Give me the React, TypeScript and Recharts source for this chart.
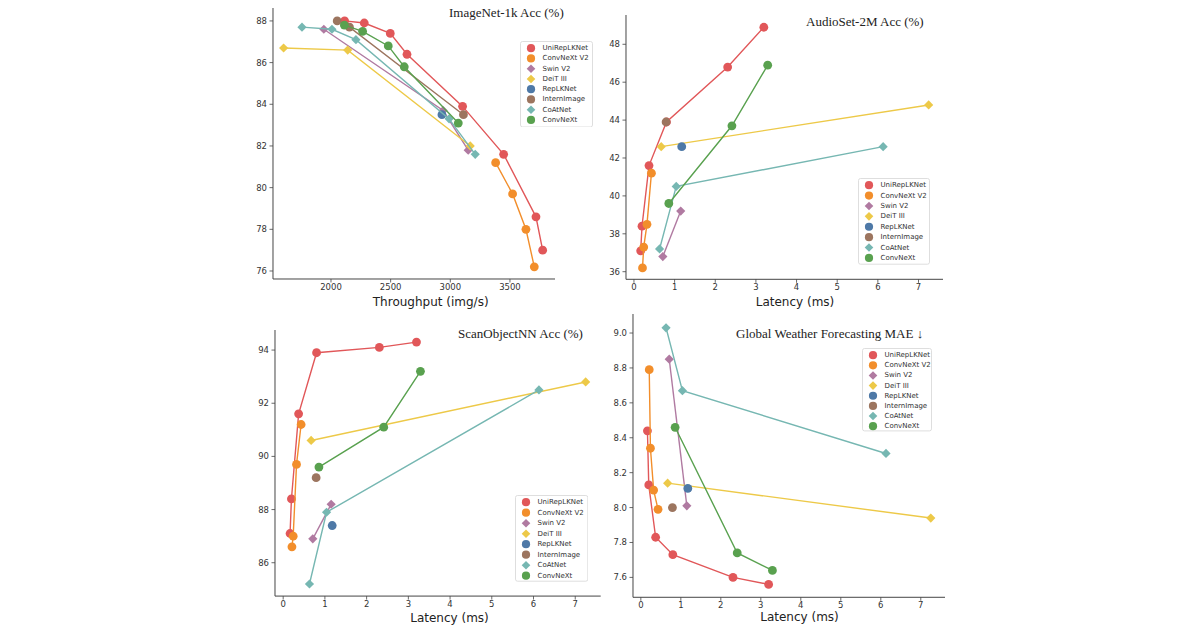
import React from 'react';
import { ScatterChart, Scatter, XAxis, YAxis, Legend } from 'recharts';

// ---- models, colours, marker shapes ----
const MODELS = ['UniRepLKNet', 'ConvNeXt V2', 'Swin V2', 'DeiT III', 'RepLKNet', 'InternImage', 'CoAtNet', 'ConvNeXt'];
const COLORS = ['#e15759', '#f28e2b', '#b07aa1', '#edc948', '#4e79a7', '#9c755f', '#76b7b2', '#59a14f'];
const SHAPES = ['circle', 'circle', 'diamond', 'diamond', 'circle', 'circle', 'diamond', 'circle'];

// ---- ImageNet-1k: throughput (img/s) and top-1 accuracy (%) ----
const inThroughputUniRepLKNet = [2114, 2279, 2497, 2637, 3103, 3447, 3718, 3774];
const inAccUniRepLKNet = [88.0, 87.9, 87.4, 86.4, 83.9, 81.6, 78.6, 77.0];
const inThroughputConvNeXtV2 = [3380, 3522, 3634, 3704];
const inAccConvNeXtV2 = [81.2, 79.7, 78.0, 76.2];
const inThroughputSwinV2 = [1940, 2940, 3150];
const inAccSwinV2 = [87.6, 83.7, 81.8];
const inThroughputDeiT = [1603, 2140, 3167];
const inAccDeiT = [86.7, 86.6, 82.0];
const inThroughputRepLKNet = [2930];
const inAccRepLKNet = [83.5];
const inThroughputInternImage = [2052, 2155, 3110];
const inAccInternImage = [88.0, 87.7, 83.5];
const inThroughputCoAtNet = [1757, 2008, 2209, 2990, 3209];
const inAccCoAtNet = [87.7, 87.6, 87.1, 83.3, 81.6];
const inThroughputConvNeXt = [2112, 2265, 2480, 2614, 3067];
const inAccConvNeXt = [87.8, 87.5, 86.8, 85.8, 83.1];

// ---- latency (ms) per model, shared by the three latency panels ----
const latUniRepLKNet = [0.165, 0.198, 0.37, 0.8, 2.305, 3.195];
const latConvNeXtV2 = [0.21, 0.24, 0.32, 0.43];
const latSwinV2 = [0.71, 1.15];
const latDeiT = [0.67, 7.25];
const latRepLKNet = [1.175];
const latInternImage = [0.79];
const latCoAtNet = [0.63, 1.04, 6.13];
const latConvNeXt = [0.857, 2.41, 3.29];

// ---- AudioSet-2M accuracy (%) ----
const asUniRepLKNet = [37.1, 38.4, 41.6, 43.9, 46.8, 48.9];
const asConvNeXtV2 = [36.2, 37.3, 38.5, 41.2];
const asSwinV2 = [36.8, 39.2];
const asDeiT = [42.6, 44.8];
const asRepLKNet = [42.6];
const asInternImage = [43.9];
const asCoAtNet = [37.2, 40.5, 42.6];
const asConvNeXt = [39.6, 43.7, 46.9];

// ---- ScanObjectNN accuracy (%) ----
const soUniRepLKNet = [87.1, 88.4, 91.6, 93.9, 94.1, 94.3];
const soConvNeXtV2 = [86.6, 87.0, 89.7, 91.2];
const soSwinV2 = [86.9, 88.2];
const soDeiT = [90.6, 92.8];
const soRepLKNet = [87.4];
const soInternImage = [89.2];
const soCoAtNet = [85.2, 87.9, 92.5];
const soConvNeXt = [89.6, 91.1, 93.2];

// ---- Global weather forecasting MAE ----
const gwUniRepLKNet = [8.44, 8.13, 7.83, 7.73, 7.6, 7.56];
const gwConvNeXtV2 = [8.79, 8.34, 8.1, 7.99];
const gwSwinV2 = [8.85, 8.01];
const gwDeiT = [8.14, 7.94];
const gwRepLKNet = [8.11];
const gwInternImage = [8.0];
const gwCoAtNet = [9.03, 8.67, 8.31];
const gwConvNeXt = [8.46, 7.74, 7.64];

// ---- tick values ----
const inXTicks = [2000, 2500, 3000, 3500];
const inYTicks = [76, 78, 80, 82, 84, 86, 88];
const latXTicks = [0, 1, 2, 3, 4, 5, 6, 7];
const asYTicks = [36, 38, 40, 42, 44, 46, 48];
const soYTicks = [86, 88, 90, 92, 94];
const gwYTicks = [7.6, 7.8, 8.0, 8.2, 8.4, 8.6, 8.8, 9.0];

const LAT = [latUniRepLKNet, latConvNeXtV2, latSwinV2, latDeiT, latRepLKNet, latInternImage, latCoAtNet, latConvNeXt];

type Pt = { x: number; y: number };
const zip = (xs: number[], ys: number[]): Pt[] => ys.map((y, i) => ({ x: xs[i], y }));

const imagenetSeries = [
  zip(inThroughputUniRepLKNet, inAccUniRepLKNet),
  zip(inThroughputConvNeXtV2, inAccConvNeXtV2),
  zip(inThroughputSwinV2, inAccSwinV2),
  zip(inThroughputDeiT, inAccDeiT),
  zip(inThroughputRepLKNet, inAccRepLKNet),
  zip(inThroughputInternImage, inAccInternImage),
  zip(inThroughputCoAtNet, inAccCoAtNet),
  zip(inThroughputConvNeXt, inAccConvNeXt),
];
const audiosetSeries = [asUniRepLKNet, asConvNeXtV2, asSwinV2, asDeiT, asRepLKNet, asInternImage, asCoAtNet, asConvNeXt].map((v, i) => zip(LAT[i], v));
const scanSeries = [soUniRepLKNet, soConvNeXtV2, soSwinV2, soDeiT, soRepLKNet, soInternImage, soCoAtNet, soConvNeXt].map((v, i) => zip(LAT[i], v));
const weatherSeries = [gwUniRepLKNet, gwConvNeXtV2, gwSwinV2, gwDeiT, gwRepLKNet, gwInternImage, gwCoAtNet, gwConvNeXt].map((v, i) => zip(LAT[i], v));

const SANS = '"DejaVu Sans", Verdana, sans-serif';
const SERIF = '"Liberation Serif", "Times New Roman", serif';
const AXIS = '#444';
const TEXT = '#333';

// Circle or diamond; for a diamond r is the half-diagonal.
function Marker({ shape, cx, cy, color, r }: { shape: string; cx: number; cy: number; color: string; r: number }) {
  if (shape === 'diamond') {
    return <polygon points={`${cx},${cy - r} ${cx + r},${cy} ${cx},${cy + r} ${cx - r},${cy}`} fill={color} />;
  }
  return <circle cx={cx} cy={cy} r={r} fill={color} />;
}

function LegendBox({ w, h, step }: { w: number; h: number; step: number }) {
  return (
    <svg width={w} height={h} style={{ display: 'block' }}>
      <rect x={0.5} y={0.5} width={w - 1} height={h - 1} rx={2} fill="#fff" fillOpacity={0.85} stroke="#d6d6d6" strokeWidth={0.8} />
      {MODELS.map((m, i) => {
        const cy = 7.2 + i * step;
        return (
          <g key={m}>
            <Marker shape={SHAPES[i]} cx={11} cy={cy} color={COLORS[i]} r={SHAPES[i] === 'diamond' ? 4.3 : 4.1} />
            <text x={22.5} y={cy} dominantBaseline="central" fontSize={7} fontFamily={SANS} fill={TEXT}>
              {m}
            </text>
          </g>
        );
      })}
    </svg>
  );
}

type Panel = {
  key: string;
  plot: { L: number; T: number; R: number; B: number };
  xDomain: [number, number];
  yDomain: [number, number];
  xTicks: number[];
  yTicks: number[];
  yFmt: (v: number) => string;
  series: Pt[][];
  legend: { x: number; y: number; w: number; h: number; step: number };
  title: { text: string; x: number; y: number };
  xlabel: { text: string; x: number; y: number };
};

const LAT_DOMAIN: [number, number] = [-0.196, 7.61];

const PANELS: Panel[] = [
  {
    key: 'imagenet',
    plot: { L: 272.7, T: 8, R: 555, B: 279 },
    xDomain: [1514, 3880],
    yDomain: [75.616, 88.62],
    xTicks: inXTicks,
    yTicks: inYTicks,
    yFmt: (v) => String(v),
    series: imagenetSeries,
    legend: { x: 520.5, y: 40.7, w: 73, h: 86.5, step: 10.25 },
    title: { text: 'ImageNet-1k Acc (%)', x: 449, y: 11.7 },
    xlabel: { text: 'Throughput (img/s)', x: 430.7, y: 301.7 },
  },
  {
    key: 'audioset',
    plot: { L: 626, T: 15, R: 943.3, B: 279.3 },
    xDomain: LAT_DOMAIN,
    yDomain: [35.599, 49.546],
    xTicks: latXTicks,
    yTicks: asYTicks,
    yFmt: (v) => String(v),
    series: audiosetSeries,
    legend: { x: 858.3, y: 178.3, w: 72, h: 86.7, step: 10.39 },
    title: { text: 'AudioSet-2M Acc (%)', x: 806, y: 20.5 },
    xlabel: { text: 'Latency (ms)', x: 795, y: 301.7 },
  },
  {
    key: 'scan',
    plot: { L: 275.3, T: 329.6, R: 601, B: 595.7 },
    xDomain: LAT_DOMAIN,
    yDomain: [84.745, 94.755],
    xTicks: latXTicks,
    yTicks: soYTicks,
    yFmt: (v) => String(v),
    series: scanSeries,
    legend: { x: 515, y: 495, w: 73.3, h: 86.7, step: 10.5 },
    title: { text: 'ScanObjectNN Acc (%)', x: 458, y: 332.5 },
    xlabel: { text: 'Latency (ms)', x: 449.5, y: 617.7 },
  },
  {
    key: 'weather',
    plot: { L: 632.9, T: 314.3, R: 945.1, B: 597.6 },
    xDomain: LAT_DOMAIN,
    yDomain: [7.486, 9.109],
    xTicks: latXTicks,
    yTicks: gwYTicks,
    yFmt: (v) => v.toFixed(1),
    series: weatherSeries,
    legend: { x: 861.7, y: 348.3, w: 70, h: 83.4, step: 10.14 },
    title: { text: 'Global Weather Forecasting MAE \u2193', x: 736, y: 332.5 },
    xlabel: { text: 'Latency (ms)', x: 799.5, y: 616.7 },
  },
];

const Y_W = 40;
const X_H = 22;

function PanelChart({ p }: { p: Panel }) {
  const { L, T, R, B } = p.plot;
  const left = L - Y_W;
  const width = R - L + Y_W;
  const height = B - T + X_H;
  const tickStyle = { fontSize: 8.5, fill: TEXT, fontFamily: SANS };
  return (
    <div style={{ position: 'absolute', left, top: T, width, height }}>
      <ScatterChart width={width} height={height} margin={{ top: 0, right: 0, bottom: 0, left: 0 }}>
        <XAxis
          type="number"
          dataKey="x"
          domain={p.xDomain}
          ticks={p.xTicks}
          allowDataOverflow
          height={X_H}
          tickSize={3.5}
          tickMargin={1.5}
          tick={tickStyle}
          axisLine={{ stroke: AXIS, strokeWidth: 1 }}
          tickLine={{ stroke: AXIS, strokeWidth: 0.8 }}
        />
        <YAxis
          type="number"
          dataKey="y"
          domain={p.yDomain}
          ticks={p.yTicks}
          allowDataOverflow
          width={Y_W}
          tickSize={3.5}
          tickMargin={2.5}
          tick={tickStyle}
          tickFormatter={p.yFmt}
          axisLine={{ stroke: AXIS, strokeWidth: 1 }}
          tickLine={{ stroke: AXIS, strokeWidth: 0.8 }}
        />
        {p.series.map((pts, i) => (
          <Scatter
            key={MODELS[i]}
            name={MODELS[i]}
            data={pts}
            fill={COLORS[i]}
            line={{ stroke: COLORS[i], strokeWidth: 1.4 }}
            lineType="joint"
            isAnimationActive={false}
            shape={(props: any) => (
              <Marker shape={SHAPES[i]} cx={props.cx} cy={props.cy} color={COLORS[i]} r={SHAPES[i] === 'diamond' ? 4.6 : 4.4} />
            )}
          />
        ))}
        <Legend
          layout="horizontal"
          verticalAlign="middle"
          align="center"
          wrapperStyle={{
            left: p.legend.x - left,
            top: p.legend.y - T,
            width: p.legend.w,
            height: p.legend.h,
          }}
          content={() => <LegendBox w={p.legend.w} h={p.legend.h} step={p.legend.step} />}
        />
      </ScatterChart>
    </div>
  );
}

export default function App() {
  return (
    <div style={{ position: 'absolute', left: 0, top: 0, width: 1200, height: 630, background: '#fff', overflow: 'hidden' }}>
      {PANELS.map((p) => (
        <PanelChart key={p.key} p={p} />
      ))}
      {PANELS.map((p) => (
        <div
          key={p.key + '-title'}
          style={{
            position: 'absolute',
            left: p.title.x,
            top: p.title.y,
            transform: 'translateY(-50%)',
            fontFamily: SERIF,
            fontSize: 13,
            lineHeight: '15px',
            color: '#222',
            whiteSpace: 'nowrap',
          }}
        >
          {p.title.text}
        </div>
      ))}
      {PANELS.map((p) => (
        <div
          key={p.key + '-xlabel'}
          style={{
            position: 'absolute',
            left: p.xlabel.x,
            top: p.xlabel.y,
            transform: 'translate(-50%, -50%)',
            fontFamily: SANS,
            fontSize: 12,
            lineHeight: '14px',
            color: '#222',
            whiteSpace: 'nowrap',
          }}
        >
          {p.xlabel.text}
        </div>
      ))}
    </div>
  );
}
